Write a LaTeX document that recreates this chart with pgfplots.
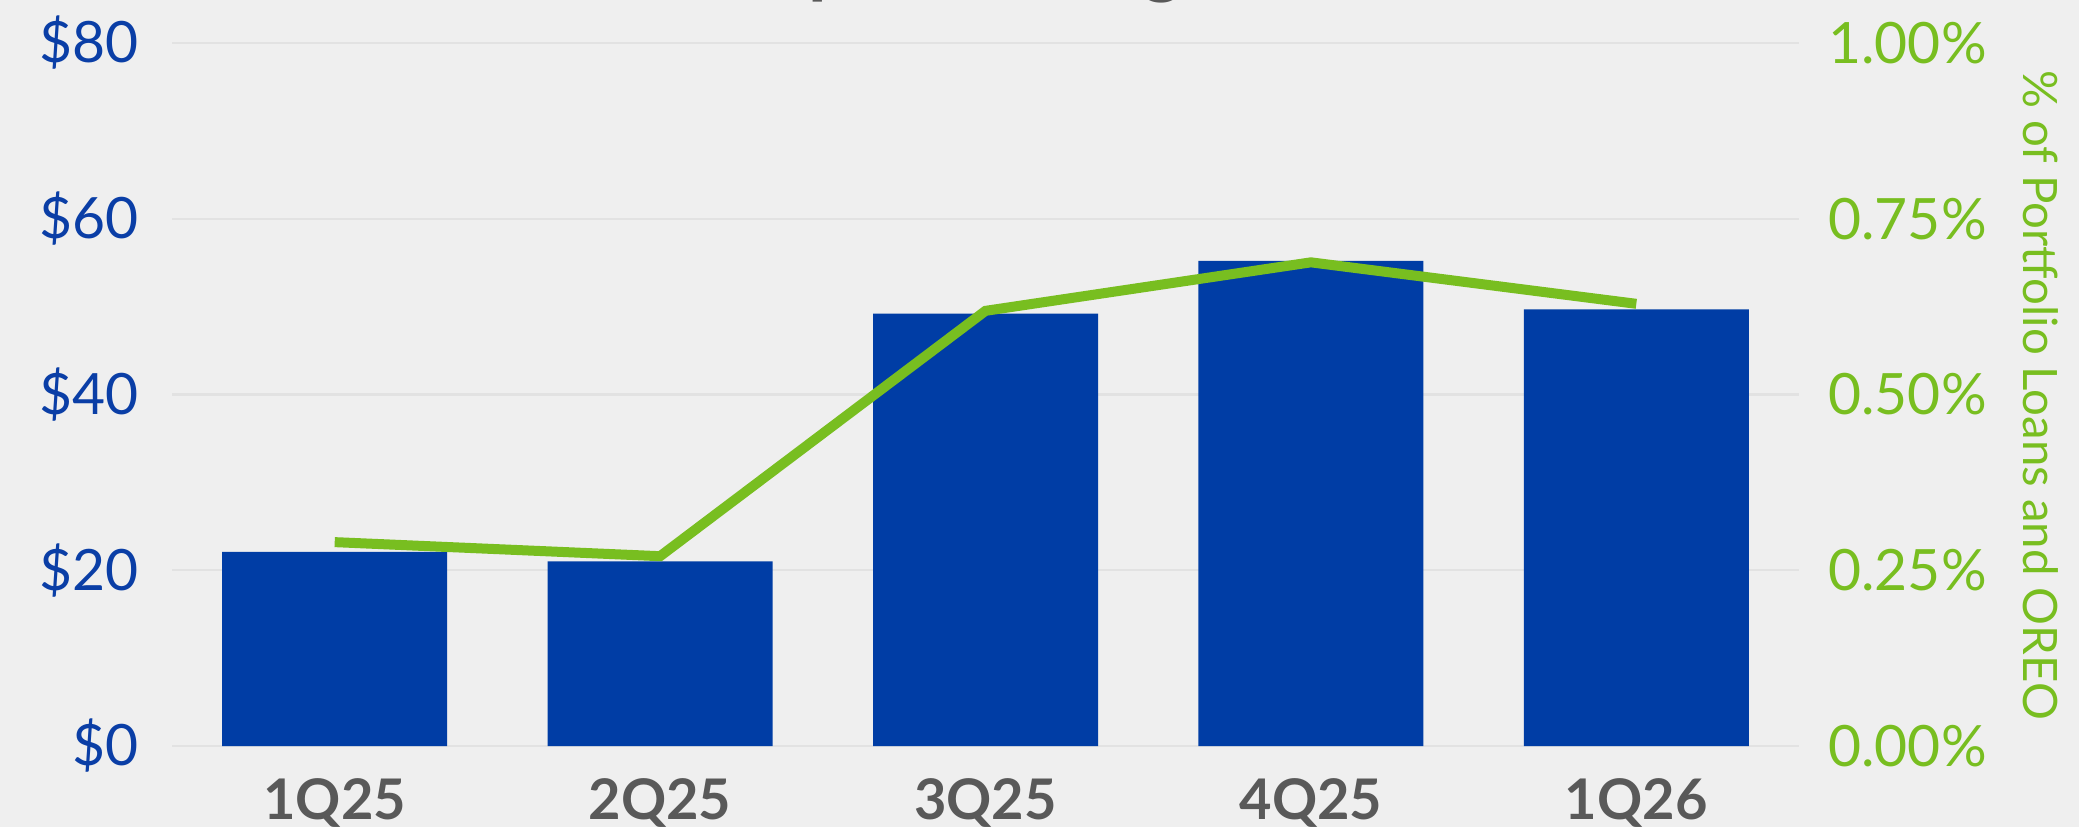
\documentclass[border=0pt]{standalone}
\usepackage{fontspec}
\setmainfont{Lato}
\usepackage{pgfplots}
\pgfplotsset{compat=1.18}
\definecolor{bgc}{HTML}{EFEFEF}
\definecolor{barc}{HTML}{003DA5}
\definecolor{bluet}{HTML}{0A3EA6}
\definecolor{greenc}{HTML}{78BE20}
\definecolor{grayt}{HTML}{595959}
\definecolor{gridc}{HTML}{E2E2E2}
\begin{document}
\begin{tikzpicture}[x=1pt,y=1pt]
\fill[bgc] (0,0) rectangle (1039.5,413.5);
\useasboundingbox (0,0) rectangle (1039.5,413.5);
\node[anchor=base, font=\bfseries\fontsize{37.7}{42}\selectfont, text=grayt, inner sep=0pt] at (521.5,418.5) {Nonperforming Assets};
\begin{axis}[
  at={(86pt,40.5pt)}, anchor=south west,
  scale only axis, width=813.5pt, height=351.5pt,
  xmin=-0.5, xmax=4.5, ymin=0, ymax=80,
  axis line style={draw=none},
  major tick length=0pt, tick style={draw=none},
  xtick={0,1,2,3,4},
  xticklabels={1Q25,2Q25,3Q25,4Q25,1Q26},
  xticklabel style={inner sep=0pt, anchor=north, yshift=-16pt, font=\bfseries\fontsize{28}{30}\selectfont, text=grayt},
  ytick={0,20,40,60,80},
  yticklabel={\$\pgfmathprintnumber{\tick}},
  /pgf/number format/assume math mode=true,
  yticklabel style={inner sep=0pt, anchor=east, xshift=-16.5pt, font=\fontsize{28.5}{30}\selectfont, text=bluet},
  ymajorgrids, grid style={color=gridc, line width=1.2pt},
]
\addplot[ybar, bar width=112.5pt, fill=barc, draw=none] coordinates {(0,22.1) (1,21.0) (2,49.2) (3,55.2) (4,49.7)};
\end{axis}
\begin{axis}[
  at={(86pt,40.5pt)}, anchor=south west,
  scale only axis, width=813.5pt, height=351.5pt,
  xmin=-0.5, xmax=4.5, ymin=0, ymax=1,
  hide x axis,
  axis y line*=right,
  axis line style={draw=none},
  major tick length=0pt, tick style={draw=none},
  ytick={0,0.25,0.5,0.75,1},
  yticklabel={\pgfmathprintnumber[fixed,fixed zerofill,precision=2]{\tick}\%},
  /pgf/number format/assume math mode=true,
  yticklabel style={inner sep=0pt, anchor=west, xshift=14.5pt, font=\fontsize{28.5}{30}\selectfont, text=greenc},
]
\addplot[color=greenc, line width=5pt, mark=none] coordinates {(0,0.290) (1,0.270) (2,0.619) (3,0.688) (4,0.629)};
\end{axis}
\node[rotate=-90, font=\fontsize{23.7}{26}\selectfont, text=greenc, inner sep=0pt] at (1020.5,216) {\% of Portfolio Loans and OREO};
\end{tikzpicture}
\end{document}
